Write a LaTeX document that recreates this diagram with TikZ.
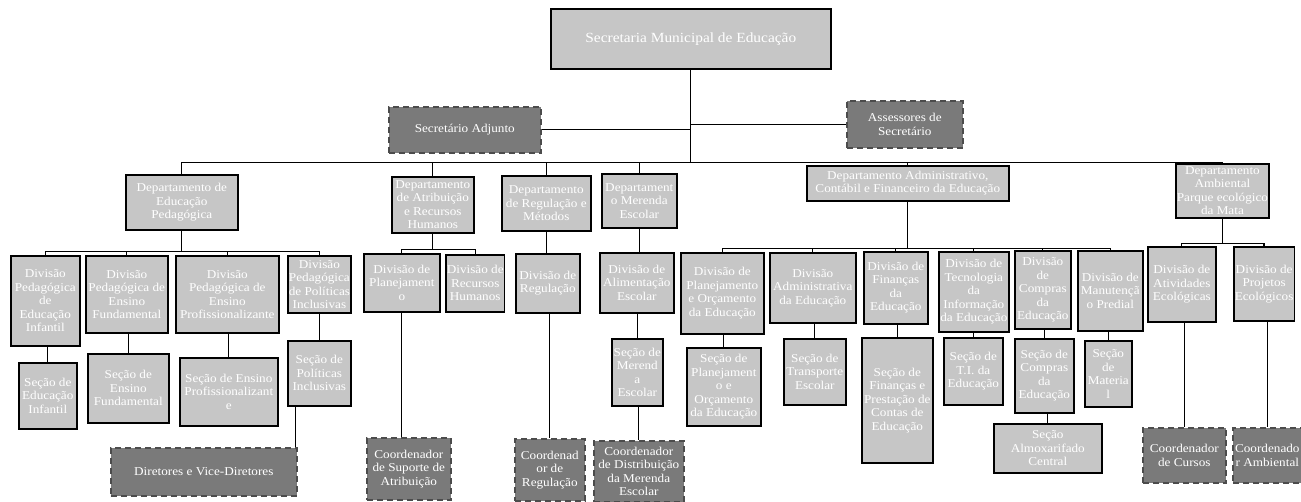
\documentclass[tikz,border=0pt]{standalone}
\usepackage{fontspec}
\setmainfont{Liberation Serif}[FakeStretch=1.1]
\definecolor{boxgray}{RGB}{198,198,198}
\definecolor{aidegray}{RGB}{122,122,122}
\tikzset{
    unit/.style={
           rectangle,
           draw=black, line width=1.6pt,
           fill=boxgray,
           text=white,
           anchor=north west,
           inner sep=1pt,
           align=center,
           font=\fontsize{12}{13.5}\selectfont
           },
    aide/.style={
           unit,
           draw=black!70, dash pattern=on 6pt off 4pt,
           fill=aidegray
           },
    link/.style={draw=black, line width=1.3pt},
}

\begin{document}
\begin{tikzpicture}[x=1pt,y=-1pt]
             \useasboundingbox (0,0) rectangle (1301,502);

             % top level
             \node[unit, minimum width=280pt, minimum height=60pt,
                   font=\fontsize{14}{16}\selectfont] (SEC) at (550,8)
             {Secretaria Municipal de Educação};
             \node[aide, minimum width=152pt, minimum height=46pt] (ADJ) at (388,106)
             {Secretário Adjunto};
             \node[aide, minimum width=116pt, minimum height=47pt] (ASS) at (846,100)
             {Assessores de\\Secretário};

             % departamentos
             \node[unit, minimum width=112pt, minimum height=55pt] (DEP) at (125,174)
             {Departamento de\\Educação\\Pedagógica};
             \node[unit, minimum width=82pt, minimum height=56pt] (DAR) at (391,176)
             {Departamento\\de Atribuição\\e Recursos\\Humanos};
             \node[unit, minimum width=89pt, minimum height=55pt] (DRM) at (501,175)
             {Departamento\\de Regulação e\\Métodos};
             \node[unit, minimum width=75pt, minimum height=54pt] (DME) at (601,173)
             {Departament\\o Merenda\\Escolar};
             \node[unit, minimum width=202pt, minimum height=35pt] (DAF) at (806,165)
             {Departamento Administrativo,\\Contábil e Financeiro da Educação};
             \node[unit, minimum width=85pt, minimum height=54pt] (DAM) at (1175,163)
             {Departamento\\Ambiental\\Parque ecológico\\da Mata};

             % divisoes
             \node[unit, minimum width=69pt, minimum height=90pt] (DPI) at (10,255)
             {Divisão\\Pedagógica\\de\\Educação\\Infantil};
             \node[unit, minimum width=82pt, minimum height=77pt] (DPF) at (85,255)
             {Divisão\\Pedagógica de\\Ensino\\Fundamental};
             \node[unit, minimum width=103pt, minimum height=77pt] (DPP) at (175,255)
             {Divisão\\Pedagógica de\\Ensino\\Profissionalizante};
             \node[unit, minimum width=63pt, minimum height=57pt] (DPPI) at (287,255)
             {Divisão\\Pedagógica\\de Políticas\\Inclusivas};
             \node[unit, minimum width=76pt, minimum height=58pt] (DPL) at (363,253)
             {Divisão de\\Planejament\\o};
             \node[unit, minimum width=58pt, minimum height=57pt] (DRH) at (445,254)
             {Divisão de\\Recursos\\Humanos};
             \node[unit, minimum width=64pt, minimum height=59pt] (DRG) at (515,253)
             {Divisão de\\Regulação};
             \node[unit, minimum width=74pt, minimum height=60pt] (DAE) at (599,252)
             {Divisão de\\Alimentação\\Escolar};
             \node[unit, minimum width=83pt, minimum height=81pt] (DPO) at (680,252)
             {Divisão de\\Planejamento\\e Orçamento\\da Educação};
             \node[unit, minimum width=86pt, minimum height=70pt] (DAD) at (769,252)
             {Divisão\\Administrativa\\da Educação};
             \node[unit, minimum width=64pt, minimum height=72pt] (DFE) at (863,251)
             {Divisão de\\Finanças\\da\\Educação};
             \node[unit, minimum width=70pt, minimum height=80pt] (DTI) at (938,251)
             {Divisão de\\Tecnologia\\da\\Informação\\da Educação};
             \node[unit, minimum width=56pt, minimum height=78pt] (DCE) at (1014,250)
             {Divisão\\de\\Compras\\da\\Educação};
             \node[unit, minimum width=65pt, minimum height=80pt] (DMP) at (1077,250)
             {Divisão de\\Manutençã\\o Predial};
             \node[unit, minimum width=68pt, minimum height=75pt] (DAT) at (1147,246)
             {Divisão de\\Atividades\\Ecológicas};
             \node[unit, minimum width=60pt, minimum height=74pt] (DPE) at (1233,246)
             {Divisão de\\Projetos\\Ecológicos};

             % secoes
             \node[unit, minimum width=58pt, minimum height=66pt] (SEI) at (18,362)
             {Seção de\\Educação\\Infantil};
             \node[unit, minimum width=81pt, minimum height=69pt] (SEF) at (87,353)
             {Seção de\\Ensino\\Fundamental};
             \node[unit, minimum width=98pt, minimum height=68pt] (SEP) at (179,357)
             {Seção de Ensino\\Profissionalizant\\e};
             \node[unit, minimum width=63pt, minimum height=65pt] (SPI) at (287,340)
             {Seção de\\Políticas\\Inclusivas};
             \node[unit, minimum width=51pt, minimum height=67pt] (SMR) at (611,338)
             {Seção de\\Merend\\a\\Escolar};
             \node[unit, minimum width=74pt, minimum height=78pt] (SPO) at (686,347)
             {Seção de\\Planejament\\o e\\Orçamento\\da Educação};
             \node[unit, minimum width=62pt, minimum height=66pt] (STE) at (783,338)
             {Seção de\\Transporte\\Escolar};
             \node[unit, minimum width=71pt, minimum height=125pt] (SFP) at (861,337)
             {Seção de\\Finanças e\\Prestação de\\Contas de\\Educação};
             \node[unit, minimum width=59pt, minimum height=67pt] (STI) at (943,337)
             {Seção de\\T.I. da\\Educação};
             \node[unit, minimum width=59pt, minimum height=74pt] (SCE) at (1014,338)
             {Seção de\\Compras\\da\\Educação};
             \node[unit, minimum width=47pt, minimum height=66pt] (SMT) at (1084,340)
             {Seção\\de\\Materia\\l};
             \node[unit, minimum width=108pt, minimum height=49pt] (SAC) at (993,423)
             {Seção\\Almoxarifado\\Central};

             % coordenadores
             \node[aide, minimum width=186pt, minimum height=48pt] (DVD) at (110,447)
             {Diretores e Vice-Diretores};
             \node[aide, minimum width=84pt, minimum height=62pt] (CSA) at (366,437)
             {Coordenador\\de Suporte de\\Atribuição};
             \node[aide, minimum width=70pt, minimum height=62pt] (CRG) at (514,438)
             {Coordenad\\or de\\Regulação};
             \node[aide, minimum width=90pt, minimum height=61pt] (CDM) at (593,440)
             {Coordenador\\de Distribuição\\da Merenda\\Escolar};
             \node[aide, minimum width=83pt, minimum height=55pt] (CCU) at (1142,427)
             {Coordenador\\de Cursos};
             \node[aide, minimum width=69pt, minimum height=55pt] (CAM) at (1232,427)
             {Coordenado\\r Ambiental};

             % bus points
             \path (SEC.south) ++(0,93) coordinate (bSEC);
             \path (DEP.south) ++(0,21) coordinate (bDEP);
             \path (DAR.south) ++(0,16) coordinate (bDAR);
             \path (DAF.south) ++(0,47) coordinate (bDAF);
             \path (DAM.south) ++(0,25) coordinate (bDAM);

             \draw[link]
             (SEC.south) -- (bSEC)
             (ADJ.east) -- (ADJ.east -| SEC.south)
             (ASS.west) -- (ASS.west -| SEC.south)
             (bSEC) -| (DEP.north)
             (bSEC) -| (DAR.north)
             (bSEC) -| (DRM.north)
             (bSEC) -| (DME.north)
             (bSEC) -| (DAF.north)
             (bSEC) -| (DAM.north)
             (DEP.south) -- (bDEP)
             (bDEP) -| (DPI.north)
             (bDEP) -| (DPF.north)
             (bDEP) -| (DPP.north)
             (bDEP) -| (DPPI.north)
             (DAR.south) -- (bDAR)
             (bDAR) -| (DPL.north)
             (bDAR) -| (DRH.north)
             (DRM.south) -- (DRM.south |- DRG.north)
             (DME.south) -- (DME.south |- DAE.north)
             (DAF.south) -- (bDAF)
             (bDAF) -| (DPO.north)
             (bDAF) -| (DAD.north)
             (bDAF) -| (DFE.north)
             (bDAF) -| (DTI.north)
             (bDAF) -| (DCE.north)
             (bDAF) -| (DMP.north)
             (DAM.south) -- (bDAM)
             (bDAM) -| (DAT.north)
             (bDAM) -| (DPE.north);

             \draw[link]
             (SEI.north |- DPI.south) -- (SEI.north)
             (SEF.north |- DPF.south) -- (SEF.north)
             (SEP.north |- DPP.south) -- (SEP.north)
             (SPI.north |- DPPI.south) -- (SPI.north)
             ([xshift=-24pt]SPI.south) -- ([xshift=-24pt]SPI.south |- DVD.north)
             (DPL.south) -- (DPL.south |- CSA.north)
             (CRG.north |- DRG.south) -- (CRG.north)
             (SMR.north |- DAE.south) -- (SMR.north)
             (CDM.north |- SMR.south) -- (CDM.north)
             (SPO.north |- DPO.south) -- (SPO.north)
             (STE.north |- DAD.south) -- (STE.north)
             (SFP.north |- DFE.south) -- (SFP.north)
             (STI.north |- DTI.south) -- (STI.north)
             (SCE.north |- DCE.south) -- (SCE.north)
             (SMT.north |- DMP.south) -- (SMT.north)
             (SAC.north |- SCE.south) -- (SAC.north)
             (CCU.north |- DAT.south) -- (CCU.north)
             (CAM.north |- DPE.south) -- (CAM.north);

\end{tikzpicture}
\end{document}
